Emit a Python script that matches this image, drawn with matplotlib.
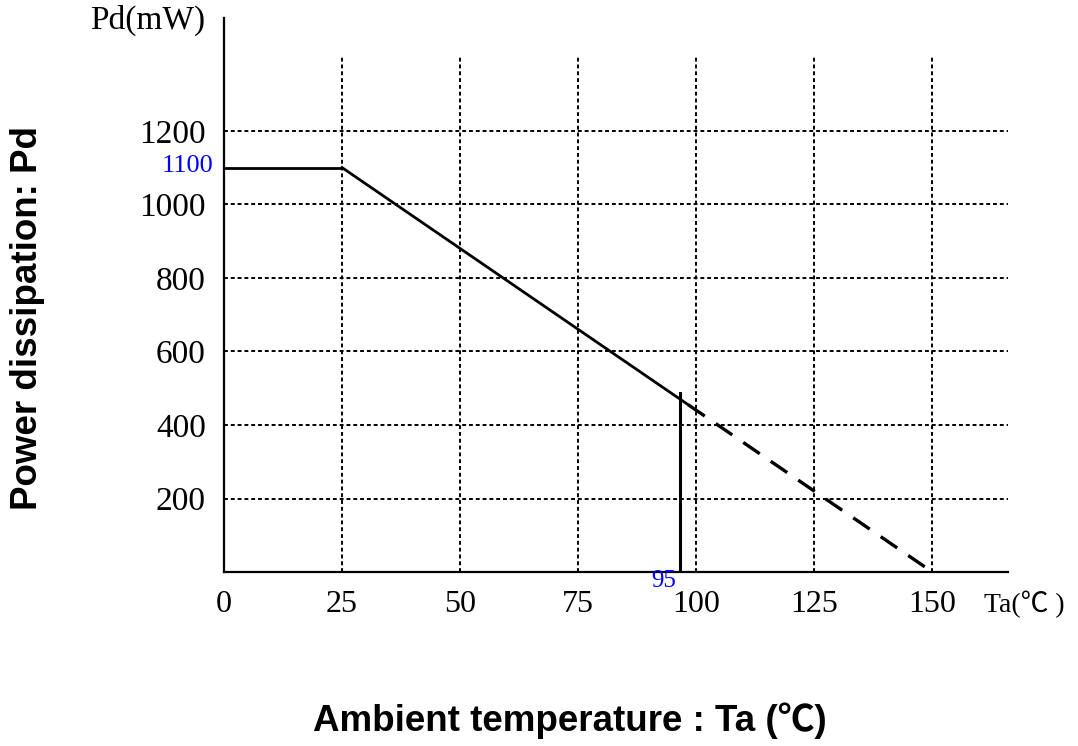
import matplotlib.pyplot as plt

# derating curve
ta_flat = [0, 25]
pd_flat = [1100, 1100]
ta_solid = [25, 98.3]
pd_solid = [1100, 455]
ta_dash = [98.3, 150]
pd_dash = [455, 0]
ta_cut = 96.6          # vertical drop line, labelled 95
pd_cut = 488

x_grid = [25, 50, 75, 100, 125, 150]
y_grid = [200, 400, 600, 800, 1000, 1200]
x_ticks = [0, 25, 50, 75, 100, 125, 150]
y_ticks = [200, 400, 600, 800, 1000, 1200]

serif = ['Liberation Serif', 'Noto Sans CJK SC', 'DejaVu Serif']
sans = ['Liberation Sans', 'Noto Sans CJK SC', 'DejaVu Sans']

fig = plt.figure(figsize=(10.78, 7.46), dpi=100)
ax = fig.add_axes([0.2078, 0.2332, 0.935 - 0.2078, 0.9759 - 0.2332])
ax.set_xlim(0, 166)
ax.set_ylim(0, 1507)

# dotted grid
for x in x_grid:
    ax.plot([x, x], [0, 1405], color='black', lw=1.4, ls=(0, (2, 1.5)), zorder=1)
for y in y_grid:
    ax.plot([0, 166], [y, y], color='black', lw=1.4, ls=(0, (2, 1.5)), zorder=1)

# curve
ax.plot(ta_flat, pd_flat, color='black', lw=2, zorder=3)
ax.plot(ta_solid, pd_solid, color='black', lw=2, zorder=3)
ax.plot(ta_dash, pd_dash, color='black', lw=2.4, ls=(0, (6, 4)), zorder=3)
ax.plot([ta_cut, ta_cut], [0, pd_cut], color='black', lw=2.2, zorder=3)

for s in ['top', 'right']:
    ax.spines[s].set_visible(False)
for s in ['left', 'bottom']:
    ax.spines[s].set_linewidth(1.6)

ax.set_xticks(x_ticks)
ax.set_xticklabels([str(v) for v in x_ticks], family=serif, fontsize=23)
ax.set_yticks(y_ticks)
ax.set_yticklabels([str(v) for v in y_ticks], family=serif, fontsize=24)
ax.tick_params(axis='x', length=0, pad=13)
ax.tick_params(axis='y', length=0, pad=13)

# blue annotations
ax.text(-2.2, 1105, '1100', color='blue', family=serif, fontsize=19,
        ha='right', va='center')
ax.text(ta_cut - 0.8, 5, '95', color='blue', family=serif, fontsize=18,
        ha='right', va='top')

# axis unit labels
fig.text(205 / 1078, 1 - 20 / 746, 'Pd(mW)', family=serif, fontsize=24,
         ha='right', va='center')
fig.text(984 / 1078, 1 - 604 / 746, 'Ta(\u2103 )', family=serif, fontsize=20,
         ha='left', va='center')

fig.text(570 / 1078, 1 - 721 / 746, 'Ambient temperature : Ta (\u2103)',
         family=sans, fontsize=26.5, fontweight='bold', ha='center', va='center')
fig.text(28 / 1078, 1 - 318 / 746, 'Power dissipation: Pd', family=sans,
         fontsize=26.5, fontweight='bold', rotation=90, ha='center', va='center')

fig.savefig('out.png', dpi=100)
